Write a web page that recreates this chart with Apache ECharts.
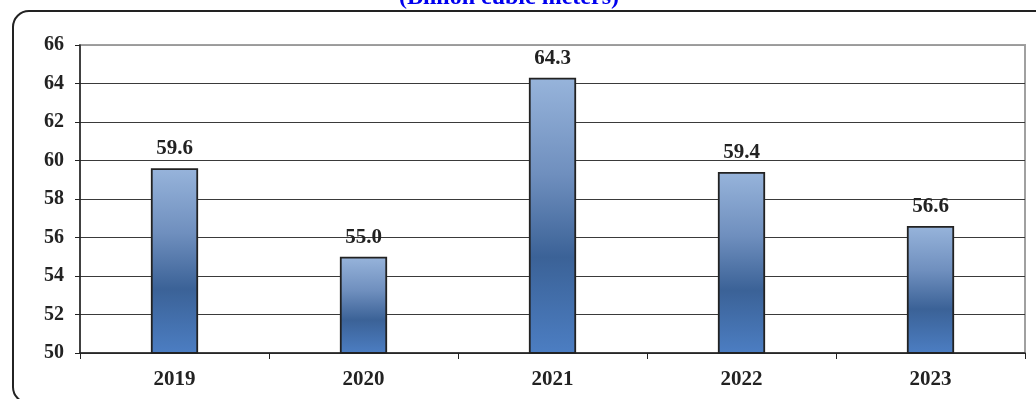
<!DOCTYPE html>
<html><head><meta charset="utf-8">
<script src="https://cdn.jsdelivr.net/npm/echarts@6/dist/echarts.min.js"></script>
<style>html,body{margin:0;padding:0;background:#fff}#c{width:1036px;height:399px}</style>
</head><body><div id="c"></div>
<script>
const categories = ['2019', '2020', '2021', '2022', '2023'];
const values = [59.6, 55.0, 64.3, 59.4, 56.6];
const titleText = '(Billion cubic meters)';
const yMin = 50, yMax = 66, yStep = 2;

const chart = echarts.init(document.getElementById('c'), null, {renderer: 'canvas'});
const serif = '"Liberation Serif", "DejaVu Serif", serif';
const gridColors = [];
for (let v = yMin; v <= yMax; v += yStep) gridColors.push(v === yMax ? '#9a9a9a' : '#3a3a3a');

chart.setOption({
  animation: false,
  grid: {left: 80, right: 11, top: 45, bottom: 46, show: true, borderColor: '#a0a0a0', borderWidth: 2, backgroundColor: 'transparent'},
  graphic: [
    {type: 'rect', z: -1, shape: {x: 13, y: 11, width: 1060, height: 392, r: 16},
     style: {fill: 'none', stroke: '#222', lineWidth: 2}},
    {type: 'text', left: 399, top: -14,
     style: {text: titleText, fill: '#0000ee', font: 'bold 24px ' + serif}}
  ],
  xAxis: {
    type: 'category', data: categories,
    axisLine: {lineStyle: {color: '#222', width: 1.5}},
    axisTick: {show: true, length: 6, lineStyle: {color: '#222'}},
    axisLabel: {color: '#222', fontFamily: serif, fontWeight: 'bold', fontSize: 21, margin: 16}
  },
  yAxis: {
    type: 'value', min: yMin, max: yMax, interval: yStep,
    axisLine: {show: true, lineStyle: {color: '#222', width: 1.5}},
    axisTick: {show: true, length: 5, lineStyle: {color: '#222'}},
    axisLabel: {color: '#222', fontFamily: serif, fontWeight: 'bold', fontSize: 20, margin: 16},
    splitLine: {show: true, lineStyle: {color: gridColors, width: 1}}
  },
  series: [{
    type: 'bar', data: values, barWidth: '25%',
    itemStyle: {
      borderColor: '#222', borderWidth: 1.8,
      color: new echarts.graphic.LinearGradient(0, 0, 0, 1, [
        {offset: 0, color: '#97b4db'},
        {offset: 0.35, color: '#6f8fbe'},
        {offset: 0.65, color: '#3b6297'},
        {offset: 1, color: '#4c7ec3'}
      ])
    },
    label: {show: true, position: 'top', distance: 9, color: '#222', fontFamily: serif, fontWeight: 'bold', fontSize: 21,
      formatter: p => p.value.toFixed(1)}
  }]
});
</script></body></html>
